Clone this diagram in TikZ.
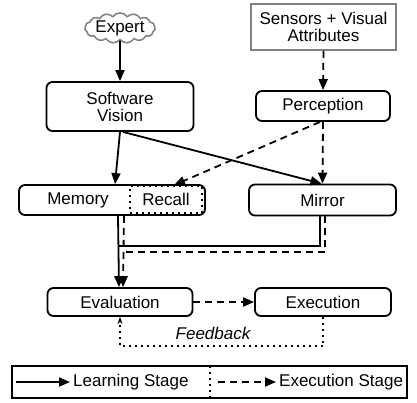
\documentclass[tikz,border=0pt]{standalone}
\usepackage{fontspec}
\setmainfont{Liberation Sans}
\usetikzlibrary{arrows.meta,shapes.symbols}
\begin{document}
\begin{tikzpicture}[x=1pt,y=-1pt,
  font=\fontsize{17}{19}\selectfont,
  box/.style={draw, line width=1.8pt, rounded corners=6pt, align=center, inner sep=0pt},
  lrn/.style={line width=1.8pt, -{Triangle[length=11pt,width=9pt]}},
  exe/.style={line width=1.8pt, dash pattern=on 7pt off 5pt, -{Triangle[length=11pt,width=9pt]}},
  dots/.style={line width=1.8pt, dash pattern=on 1.8pt off 4.2pt}]
\useasboundingbox (0,0) rectangle (417,402);
\node[cloud, cloud puffs=15, cloud puff arc=110, aspect=3, draw=gray, line width=1.5pt,
  inner sep=0pt, minimum width=70pt, minimum height=28pt] (expert) at (120,28) {Expert};
\node[box, minimum width=147pt, minimum height=49pt] (sv) at (120,106.5) {Software\\[-2pt]Vision};
\node[draw=gray, line width=1.8pt, minimum width=145pt, minimum height=46pt, align=center, inner sep=0pt]
  (sens) at (323.5,27) {Sensors + Visual\\[-2pt]Attributes};
\node[box, minimum width=134pt, minimum height=30pt] (perc) at (323,106) {Perception};
\node[box, minimum width=186pt, minimum height=30pt] (mem) at (112,200) {};
\node (memt) at (78,200) {Memory};
\node[draw, dots, minimum width=72pt, minimum height=27pt, inner sep=0pt] (recall) at (166,199.5) {Recall};
\node[box, minimum width=147pt, minimum height=31pt] (mirror) at (322.5,200) {Mirror};
\node[box, minimum width=145pt, minimum height=28pt] (eval) at (120,302) {Evaluation};
\node[box, minimum width=136pt, minimum height=28pt] (exec) at (323,302) {Execution};
% connectors
\draw[lrn] (expert.south) -- (sv.north);
\draw[lrn] (sv.south) -- ([xshift=3pt]mem.north);
\draw[lrn] ([xshift=3pt]sv.south) -- ([xshift=-1pt]mirror.north);
\draw[exe] (sens.south) -- (perc.north);
\draw[exe] (perc.south) -- (mirror.north);
\draw[exe] ([xshift=-3pt]perc.south) -- ([xshift=8pt]recall.north);
\coordinate (js) at (118,246);
\coordinate (jd) at (124,252);
\draw[lrn] ([xshift=6pt]mem.south) -- ([xshift=-1pt]eval.north);
\draw[exe] ([xshift=12pt]mem.south) -- ([xshift=3pt]eval.north);
\draw[line width=1.8pt] ([xshift=-2.5pt]mirror.south) |- (js);
\draw[line width=1.8pt, dash pattern=on 7pt off 5pt] ([xshift=2.5pt]mirror.south) |- (jd);
\draw[exe] (eval.east) -- (exec.west);
\coordinate (fb) at (323,346);
\draw[dots] (exec.south) -- (fb);
\draw[line width=1.8pt, dash pattern=on 1.8pt off 4.2pt, -{Stealth[length=7pt,width=5pt]}]
  (fb) -| (eval.south);
\node[font=\fontsize{17}{19}\selectfont\itshape] (fbt) at (213,333) {Feedback};
% legend
\node[draw, line width=1.8pt, minimum width=395pt, minimum height=32pt, inner sep=0pt] (leg) at (209.5,382) {};
\coordinate (l1) at (16,382);
\coordinate (l2) at (70,382);
\draw[lrn] (l1) -- (l2);
\node[anchor=west, inner sep=0pt] (lt1) at (73,382) {Learning Stage};
\draw[dots] (210,366) -- (210,398);
\coordinate (l3) at (218,382);
\coordinate (l4) at (276,382);
\draw[exe] (l3) -- (l4);
\node[anchor=west, inner sep=0pt] (lt2) at (279,382) {Execution Stage};
\end{tikzpicture}
\end{document}
